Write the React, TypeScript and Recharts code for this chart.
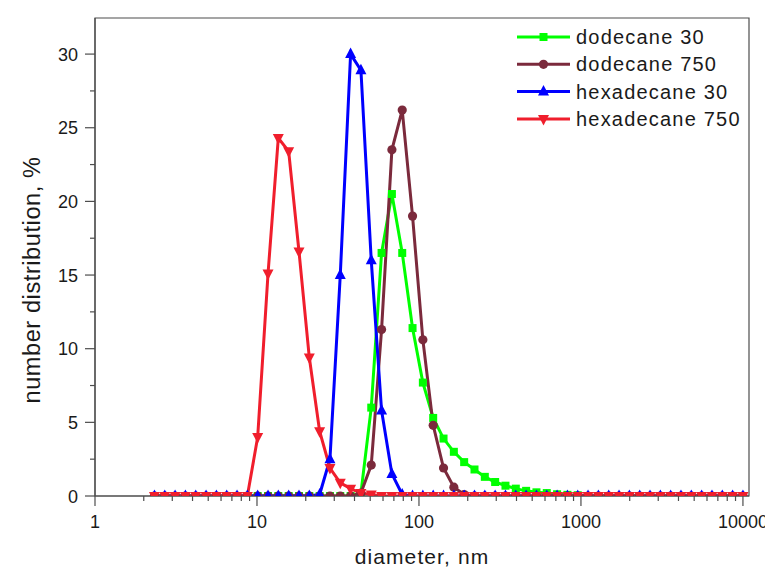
import React from 'react';
import { LineChart, Line, XAxis, YAxis, ReferenceArea, Legend } from 'recharts';

// Diameter bins (nm)
const diameters = [
  2.328, 2.696, 3.122, 3.615, 4.187, 4.849, 5.615, 6.503, 7.531, 8.721,
  10.1, 11.7, 13.54, 15.69, 18.17, 21.04, 24.36, 28.21, 32.67, 37.84,
  43.82, 50.75, 58.77, 68.06, 78.82, 91.28, 105.7, 122.4, 141.8, 164.2,
  190.1, 220.2, 255.0, 295.3, 342.0, 396.1, 458.7, 531.2, 615.1, 712.4,
  825.0, 955.4, 1106, 1281, 1484, 1718, 1990, 2305, 2669, 3091,
  3580, 4145, 4801, 5560, 6439, 7456, 8635, 10000,
];

const dodecane30 = [
  0, 0, 0, 0, 0, 0, 0, 0, 0, 0,
  0, 0, 0, 0, 0, 0, 0, 0, 0, 0,
  0.2, 6.0, 16.5, 20.5, 16.5, 11.4, 7.7, 5.3, 3.9, 3.0,
  2.3, 1.8, 1.3, 0.95, 0.7, 0.5, 0.35, 0.25, 0.2, 0.12,
  0.08, 0.05, 0, 0, 0, 0, 0, 0, 0, 0,
  0, 0, 0, 0, 0, 0, 0, 0,
];

const dodecane750 = [
  0, 0, 0, 0, 0, 0, 0, 0, 0, 0,
  0, 0, 0, 0, 0, 0, 0, 0, 0, 0,
  0.2, 2.1, 11.3, 23.5, 26.2, 19.0, 10.6, 4.8, 1.9, 0.6,
  0.1, 0, 0, 0, 0, 0, 0, 0, 0, 0,
  0, 0, 0, 0, 0, 0, 0, 0, 0, 0,
  0, 0, 0, 0, 0, 0, 0, 0,
];

const hexadecane30 = [
  0, 0, 0, 0, 0, 0, 0, 0, 0, 0,
  0, 0, 0, 0, 0, 0, 0.1, 2.5, 15.0, 30.0,
  28.9, 16.0, 5.8, 1.5, 0.1, 0, 0, 0, 0, 0,
  0, 0, 0, 0, 0, 0, 0, 0, 0, 0,
  0, 0, 0, 0, 0, 0, 0, 0, 0, 0,
  0, 0, 0, 0, 0, 0, 0, 0,
];

const hexadecane750 = [
  0, 0, 0, 0, 0, 0, 0, 0, 0, 0,
  4.0, 15.1, 24.3, 23.4, 16.6, 9.4, 4.4, 1.9, 0.9, 0.5,
  0.2, 0.1, 0, 0, 0, 0, 0, 0, 0, 0,
  0, 0, 0, 0, 0, 0, 0, 0, 0, 0,
  0, 0, 0, 0, 0, 0, 0, 0, 0, 0,
  0, 0, 0, 0, 0, 0, 0, 0,
];

const seriesNames = ['dodecane 30', 'dodecane 750', 'hexadecane 30', 'hexadecane 750'];
const seriesKeys = ['g', 'b', 'h', 'r'];
const seriesColors = ['#00ff00', '#7b2a3c', '#0000ff', '#f01e2c'];
const seriesShapes = ['square', 'circle', 'up', 'down'];

const xMajorTicks = [1, 10, 100, 1000, 10000];
const xMinorTicks = [
  2, 3, 4, 5, 6, 7, 8, 9,
  20, 30, 40, 50, 60, 70, 80, 90,
  200, 300, 400, 500, 600, 700, 800, 900,
  2000, 3000, 4000, 5000, 6000, 7000, 8000, 9000,
];
const yMajorTicks = [0, 5, 10, 15, 20, 25, 30];
const yMinorTicks = [2.5, 7.5, 12.5, 17.5, 22.5, 27.5];

const xDomain = [1, 10900];
const yDomain = [0, 32.45];

const data = diameters.map((d, i) => ({
  d,
  g: dodecane30[i],
  b: dodecane750[i],
  h: hexadecane30[i],
  r: hexadecane750[i],
}));

const FONT = '"Liberation Sans", Arial, sans-serif';
const AXIS = '#4d4d4d';
const TEXT = '#1a1a1a';

function Marker({ shape, cx, cy, color }: any) {
  if (cx == null || cy == null) return null;
  if (shape === 'square') {
    return <rect x={cx - 4} y={cy - 4} width={8} height={8} fill={color} />;
  }
  if (shape === 'circle') {
    return <circle cx={cx} cy={cy} r={4.6} fill={color} />;
  }
  if (shape === 'up') {
    return (
      <polygon
        points={`${cx},${cy - 6.5} ${cx - 5.5},${cy + 4} ${cx + 5.5},${cy + 4}`}
        fill={color}
      />
    );
  }
  return (
    <polygon
      points={`${cx},${cy + 6.5} ${cx - 5.5},${cy - 4} ${cx + 5.5},${cy - 4}`}
      fill={color}
    />
  );
}

function XTick(props: any) {
  const { x, y, payload } = props;
  const major = xMajorTicks.includes(payload.value);
  return (
    <g>
      <line x1={x} y1={y} x2={x} y2={y + (major ? 10 : 5)} stroke={AXIS} strokeWidth={1.2} />
      {major && (
        <text x={x} y={y + 32} textAnchor="middle" fontSize={18} fill={TEXT} fontFamily={FONT}>
          {payload.value}
        </text>
      )}
    </g>
  );
}

function YTick(props: any) {
  const { x, y, payload } = props;
  const major = yMajorTicks.includes(payload.value);
  return (
    <g>
      <line x1={x - (major ? 10 : 5)} y1={y} x2={x} y2={y} stroke={AXIS} strokeWidth={1.2} />
      {major && (
        <text x={x - 17} y={y + 6.5} textAnchor="end" fontSize={18} fill={TEXT} fontFamily={FONT}>
          {payload.value}
        </text>
      )}
    </g>
  );
}

function LegendContent() {
  return (
    <svg width={260} height={120} style={{ display: 'block', overflow: 'visible' }}>
      {seriesNames.map((name, i) => {
        const cy = 19 + i * 27.3;
        return (
          <g key={name}>
            <line x1={9} y1={cy} x2={62} y2={cy} stroke={seriesColors[i]} strokeWidth={3} />
            <Marker shape={seriesShapes[i]} cx={35.5} cy={cy} color={seriesColors[i]} />
            <text
              x={68}
              y={cy + 7}
              fontSize={20}
              letterSpacing={1.2}
              fill={TEXT}
              fontFamily={FONT}
            >
              {name}
            </text>
          </g>
        );
      })}
    </svg>
  );
}

export default function App() {
  return (
    <>
      <style>{`.recharts-surface{overflow:visible !important}.recharts-wrapper{overflow:visible !important}`}</style>
      <LineChart
        width={765}
        height={564}
        data={data}
        margin={{ top: 10, right: 24, bottom: 16, left: 0 }}
        style={{ fontFamily: FONT, background: '#fff' }}
      >
        <XAxis
          dataKey="d"
          type="number"
          scale="log"
          domain={xDomain}
          allowDataOverflow
          ticks={[...xMajorTicks, ...xMinorTicks].sort((a, b) => a - b)}
          interval={0}
          tickLine={false}
          tickSize={0}
          tickMargin={0}
          tick={<XTick />}
          axisLine={{ stroke: AXIS, strokeWidth: 1.2 }}
          height={60}
          label={{
            content: (p: any) => {
              const vb = p.viewBox;
              return (
                <text
                  x={vb.x + vb.width / 2}
                  y={vb.y + 68}
                  textAnchor="middle"
                  fontSize={21}
                  letterSpacing={1.1}
                  fill={TEXT}
                  fontFamily={FONT}
                >
                  diameter, nm
                </text>
              );
            },
          }}
        />
        <YAxis
          type="number"
          domain={yDomain}
          allowDataOverflow
          ticks={[...yMajorTicks, ...yMinorTicks].sort((a, b) => a - b)}
          interval={0}
          tickLine={false}
          tickSize={0}
          tickMargin={0}
          tick={<YTick />}
          axisLine={{ stroke: AXIS, strokeWidth: 1.2 }}
          width={87}
          label={{
            content: (p: any) => {
              const vb = p.viewBox;
              const cx = 32;
              const cy = vb.y + 262;
              return (
                <text
                  x={cx}
                  y={cy}
                  transform={`rotate(-90, ${cx}, ${cy})`}
                  textAnchor="middle"
                  fontSize={23.5}
                  letterSpacing={0.6}
                  fill={TEXT}
                  fontFamily={FONT}
                >
                  number distribution, %
                </text>
              );
            },
          }}
        />
        <ReferenceArea
          x1={xDomain[0]}
          x2={xDomain[1]}
          y1={yDomain[0]}
          y2={yDomain[1]}
          fill="none"
          fillOpacity={0}
          stroke={AXIS}
          strokeWidth={1.2}
          ifOverflow="visible"
        />
        {seriesKeys.map((k, i) => (
          <Line
            key={k}
            type="linear"
            dataKey={k}
            name={seriesNames[i]}
            stroke={seriesColors[i]}
            strokeWidth={3}
            isAnimationActive={false}
            dot={(p: any) => (
              <Marker
                key={`${k}-${p.index}`}
                shape={seriesShapes[i]}
                cx={p.cx}
                cy={p.cy}
                color={seriesColors[i]}
              />
            )}
            activeDot={false}
          />
        ))}
        <Legend
          layout="vertical"
          align="center"
          verticalAlign="middle"
          wrapperStyle={{ left: 500, top: 10, width: 260, height: 120 }}
          content={<LegendContent />}
        />
      </LineChart>
    </>
  );
}
